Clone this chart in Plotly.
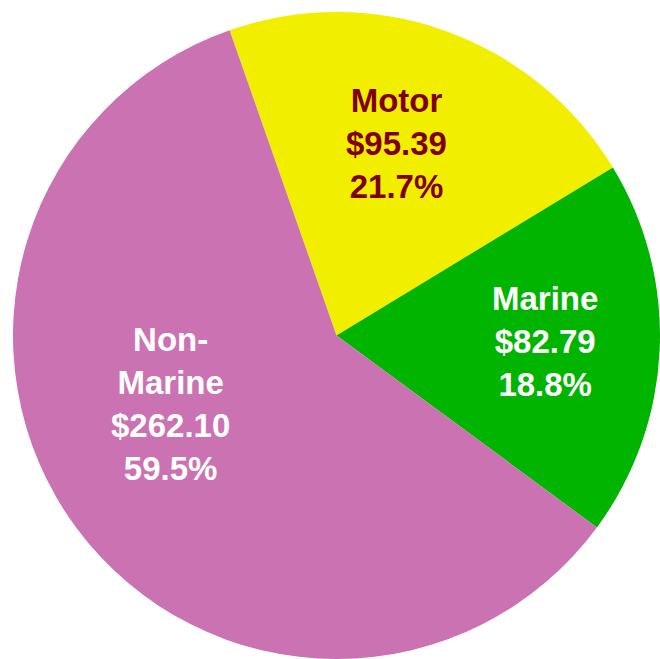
import plotly.graph_objects as go

# Premium by line of business ($ millions)
categories = ["Motor", "Marine", "Non-Marine"]
display_names = ["Motor", "Marine", "Non-<br>Marine"]
premiums = [95.39, 82.79, 262.10]

slice_colors = ["#F2EE00", "#00B400", "#CB72B2"]
text_colors = ["#800000", "#FFFFFF", "#FFFFFF"]

# Centre of each slice label, in paper coordinates
label_x = [0.6015, 0.8265, 0.2576]
label_y = [0.7815, 0.4825, 0.3870]

total = sum(premiums)

fig = go.Figure(
    go.Pie(
        labels=categories,
        values=premiums,
        textinfo="none",
        marker=dict(colors=slice_colors, line=dict(width=0)),
        sort=False,
        direction="clockwise",
        rotation=-19.3,
        hoverinfo="label+value+percent",
        domain=dict(x=[13 / 660, 1.0], y=[0.0, 1 - 12 / 659]),
    )
)

for name, value, color, x, y in zip(display_names, premiums, text_colors, label_x, label_y):
    fig.add_annotation(
        x=x,
        y=y,
        xref="paper",
        yref="paper",
        xanchor="center",
        yanchor="middle",
        text=f"{name}<br>${value:.2f}<br>{value / total:.1%}",
        showarrow=False,
        align="center",
        font=dict(family="Liberation Sans, Arial", size=33, weight="bold", color=color),
    )

fig.update_layout(
    width=660,
    height=659,
    margin=dict(l=0, r=0, t=0, b=0),
    paper_bgcolor="white",
    showlegend=False,
)

fig.write_html("out.html")
